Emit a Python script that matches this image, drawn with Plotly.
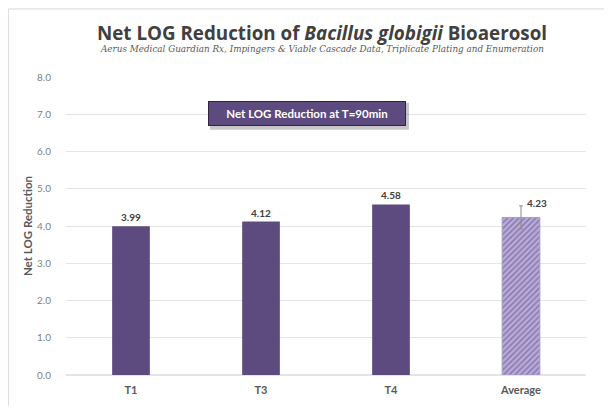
import plotly.graph_objects as go

categories = ["T1", "T3", "T4", "Average"]
values = [3.99, 4.12, 4.58, 4.23]
avg_error = 0.31
y_ticks = [0, 1, 2, 3, 4, 5, 6, 7, 8]
y_tick_labels = ["0.0", "1.0", "2.0", "3.0", "4.0", "5.0", "6.0", "7.0", "8.0"]

DARK = "#5D4A7E"
LIGHT = "#B9ABDA"

# figure sized so that with the page's 8px body margin it fits 612x419
W, H = 596, 400
L, R, T, B = 58, 18, 69, 31
PW, PH = W - L - R, H - T - B
BOT = T + PH  # pixel row of y=0


def px(x):
    return (x - L) / PW


def py(y):
    return (BOT - y) / PH


fig = go.Figure()
fig.add_trace(go.Bar(
    x=categories[:3], y=values[:3],
    marker=dict(color=DARK, line=dict(width=0)),
    width=0.29,
    text=[f"{v:.2f}" for v in values[:3]],
    textposition="outside",
    textfont=dict(family="Lato", size=10, color="#404040", weight="bold"),
    cliponaxis=False,
))
fig.add_trace(go.Bar(
    x=categories[3:], y=values[3:],
    marker=dict(color=LIGHT,
                pattern=dict(shape="/", fgcolor=DARK, bgcolor=LIGHT, size=4, solidity=0.4),
                line=dict(width=1, color="#A89BC8")),
    width=0.29,
    error_y=dict(type="data", array=[avg_error], color="#8a8a8a", thickness=1, width=2),
))
fig.add_annotation(x=categories[3], y=values[3] + avg_error, text=f"<b>{values[3]:.2f}</b>",
                   showarrow=False, xshift=16, yshift=3,
                   font=dict(family="Lato", size=10, color="#404040"))

fig.add_annotation(xref="paper", yref="paper", x=px(299), y=py(106),
                   xanchor="center", yanchor="middle",
                   text="<b>Net LOG Reduction at T=90min</b>", showarrow=False,
                   font=dict(family="Lato", size=11.5, color="white"),
                   bgcolor=DARK, bordercolor="#2f2540", borderwidth=1,
                   borderpad=5, width=186)

fig.add_annotation(xref="paper", yref="paper", x=px(314), y=py(41),
                   xanchor="center", yanchor="middle",
                   text="<i>Aerus Medical Guardian Rx, Impingers &amp; Viable Cascade Data, Triplicate Plating and Enumeration</i>",
                   showarrow=False, font=dict(family="DejaVu Serif", size=8.8, color="#595959"))

fig.update_layout(
    width=W, height=H,
    margin=dict(l=L, r=R, t=T, b=B),
    paper_bgcolor="white", plot_bgcolor="white",
    showlegend=False,
    bargap=0.71,
    title=dict(
        text="<b>Net LOG Reduction of <i>Bacillus globigii</i> Bioaerosol</b>",
        x=314 / W, xanchor="center", y=1 - 25 / H, yanchor="middle",
        font=dict(family="Open Sans", size=18.8, color="#404040"),
    ),
    xaxis=dict(showgrid=False, showline=False, ticks="", ticklabelstandoff=7,
               tickfont=dict(family="Lato", size=11, color="#595959", weight="bold")),
    yaxis=dict(range=[0, 8], tickvals=y_ticks, ticktext=y_tick_labels,
               showgrid=True, gridcolor="#e4e4e4", gridwidth=1,
               zeroline=True, zerolinecolor="#e4e4e4",
               tickfont=dict(family="Lato", size=10, color="#7f7f7f"),
               ticklabelstandoff=14,
               title=dict(text="<b>Net LOG Reduction</b>", standoff=2,
                          font=dict(family="Lato", size=11.5, color="#595959"))),
    shapes=[
        dict(type="rect", xref="paper", yref="paper",
             x0=px(202), x1=px(401), y0=py(122), y1=py(95),
             line=dict(width=0), fillcolor="rgba(0,0,0,0.22)", layer="above"),
        dict(type="line", xref="paper", yref="paper",
             x0=px(0.5), x1=px(W), y0=py(0.5), y1=py(0.5),
             line=dict(color="#d9d9d9", width=1)),
        dict(type="line", xref="paper", yref="paper",
             x0=px(0.5), x1=px(0.5), y0=py(H), y1=py(0.5),
             line=dict(color="#e3dada", width=1)),
    ],
)
fig.write_html("out.html")
